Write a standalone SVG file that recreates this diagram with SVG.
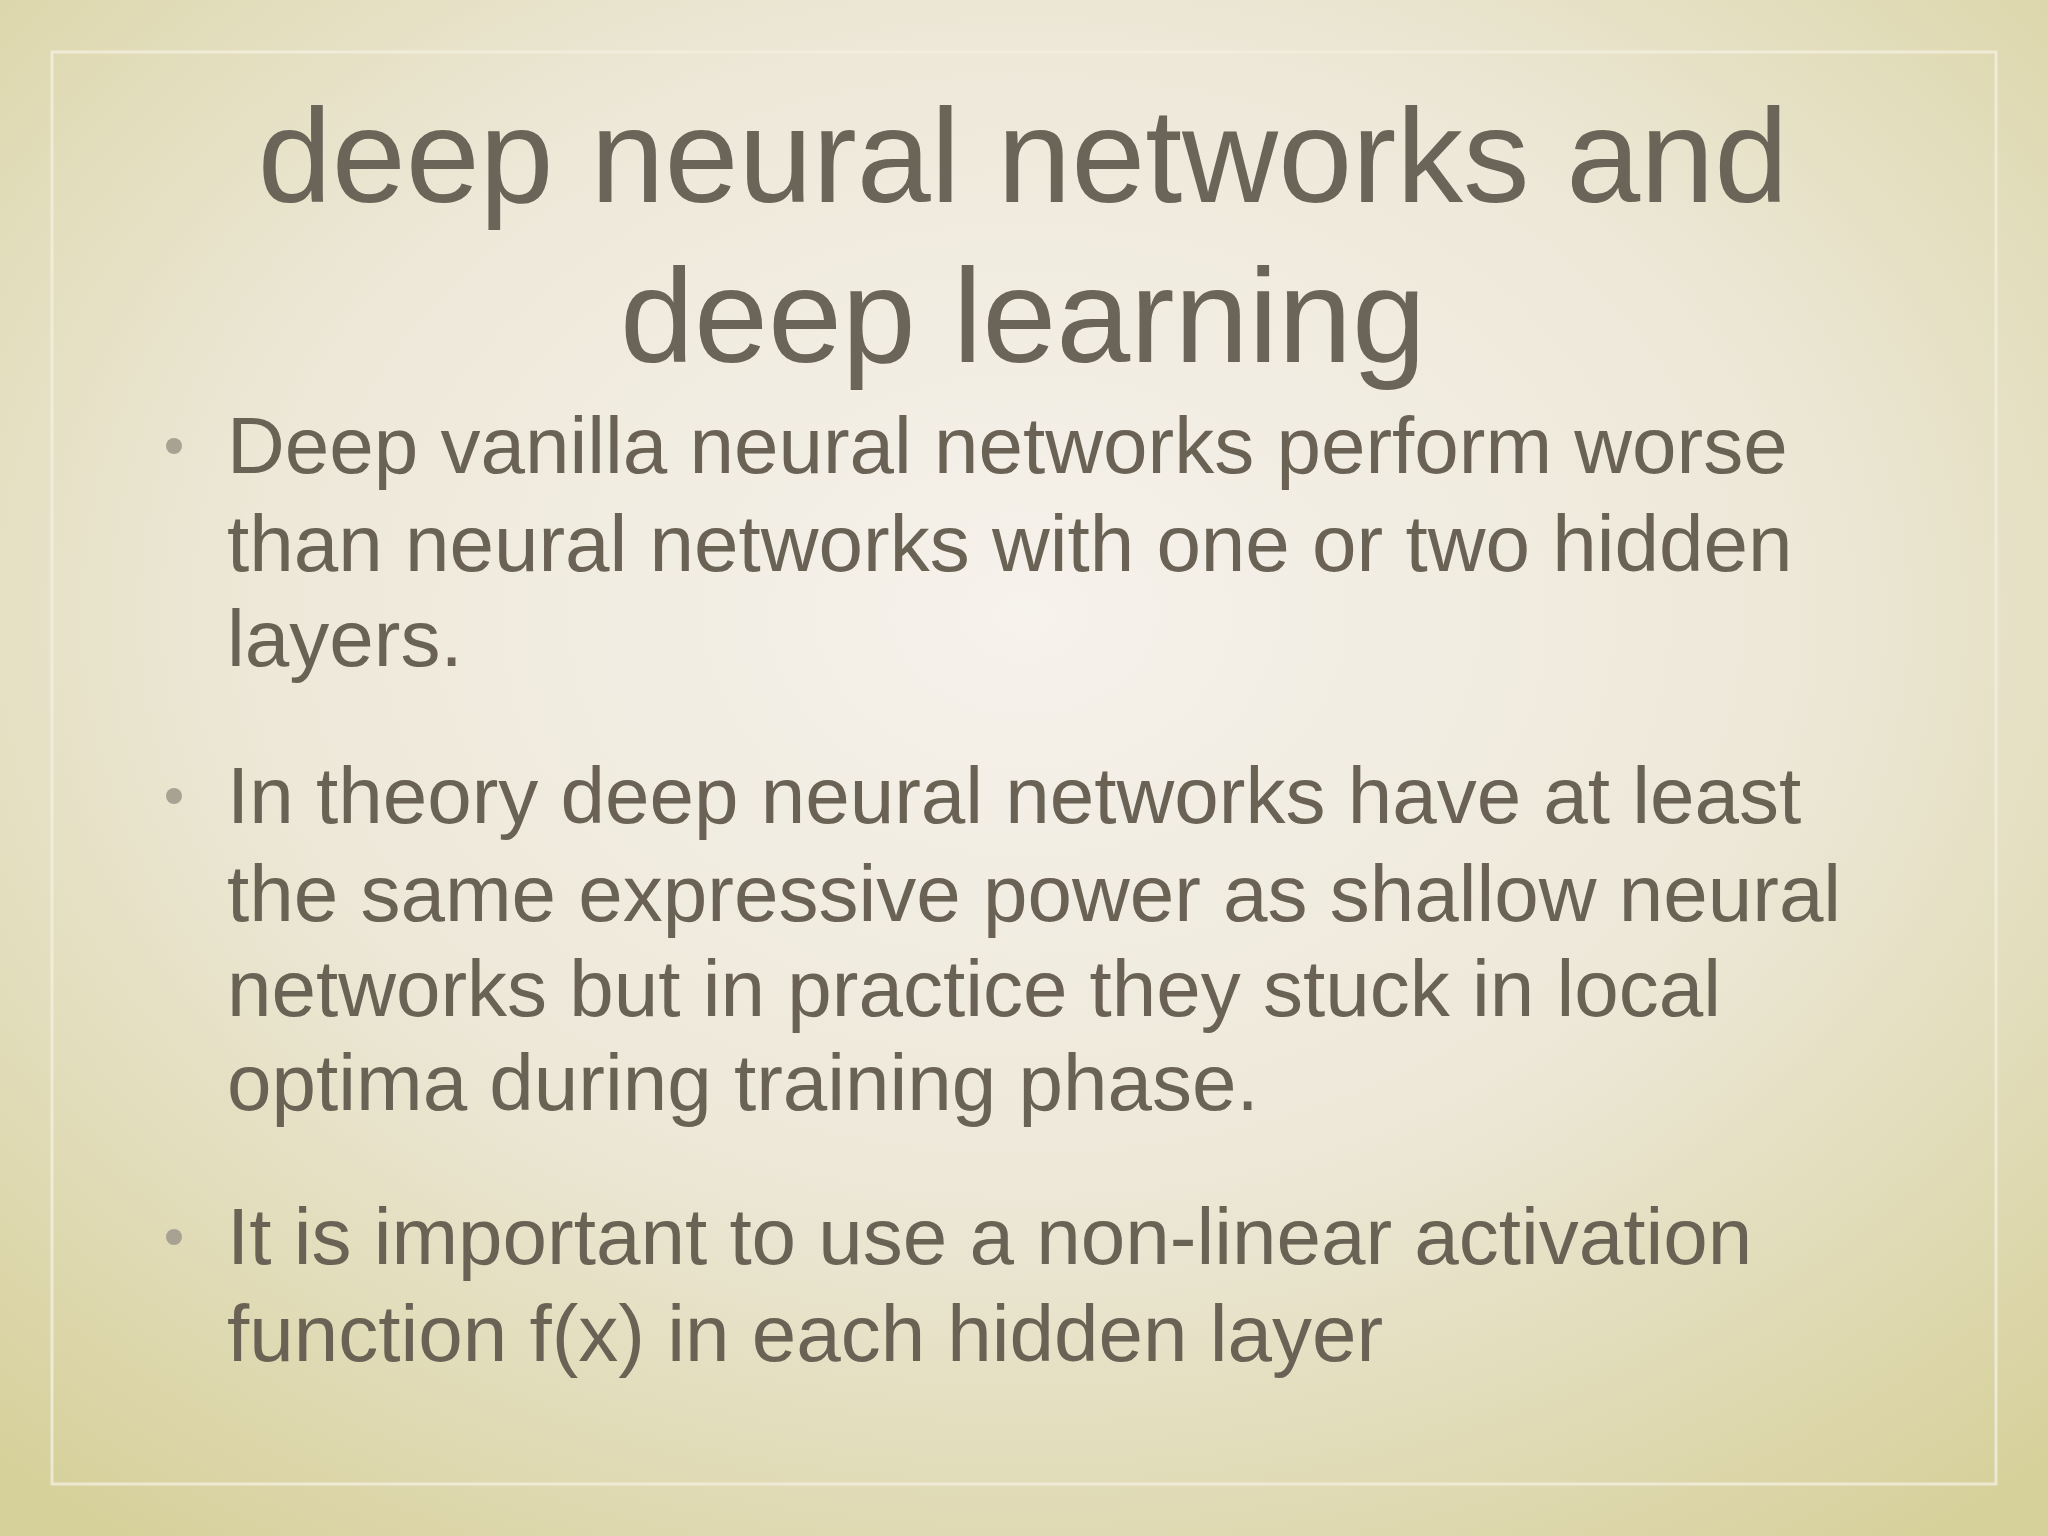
<svg xmlns="http://www.w3.org/2000/svg" width="2048" height="1536" viewBox="0 0 2048 1536">
<defs>
<radialGradient id="bg" cx="50%" cy="40%" r="75%">
<stop offset="0" stop-color="#f6f2ec"/>
<stop offset="0.5" stop-color="#ede8d8"/>
<stop offset="1" stop-color="#d6d09a"/>
</radialGradient>
</defs>
<style>
.t{font-family:"Liberation Sans",Arial,sans-serif;fill:#6a6558}
.title{font-size:133px;text-anchor:middle}
.b{font-size:80px;fill:#6a6255}
.dot{fill:#a8a293}
</style>
<rect width="2048" height="1536" fill="url(#bg)"/>
<rect x="52" y="52" width="1944" height="1432" fill="none" stroke="#f2efdf" stroke-width="3" opacity="0.8"/>
<g id="title">
<text class="t title" x="1023" y="202">deep neural networks and</text>
<text class="t title" x="1023" y="362">deep learning</text>
</g>
<g id="bullet1">
<circle class="dot" cx="174" cy="446" r="8"/>
<text class="t b" x="227" y="473">Deep vanilla neural networks perform worse</text>
<text class="t b" x="227" y="571">than neural networks with one or two hidden</text>
<text class="t b" x="227" y="666">layers.</text>
</g>
<g id="bullet2">
<circle class="dot" cx="174" cy="796" r="8"/>
<text class="t b" x="227" y="823">In theory deep neural networks have at least</text>
<text class="t b" x="227" y="921">the same expressive power as shallow neural</text>
<text class="t b" x="227" y="1016">networks but in practice they stuck in local</text>
<text class="t b" x="227" y="1110">optima during training phase.</text>
</g>
<g id="bullet3">
<circle class="dot" cx="174" cy="1237" r="8"/>
<text class="t b" x="227" y="1264">It is important to use a non-linear activation</text>
<text class="t b" x="227" y="1361">function f(x) in each hidden layer</text>
</g>
<g id="connectors"/>
</svg>
